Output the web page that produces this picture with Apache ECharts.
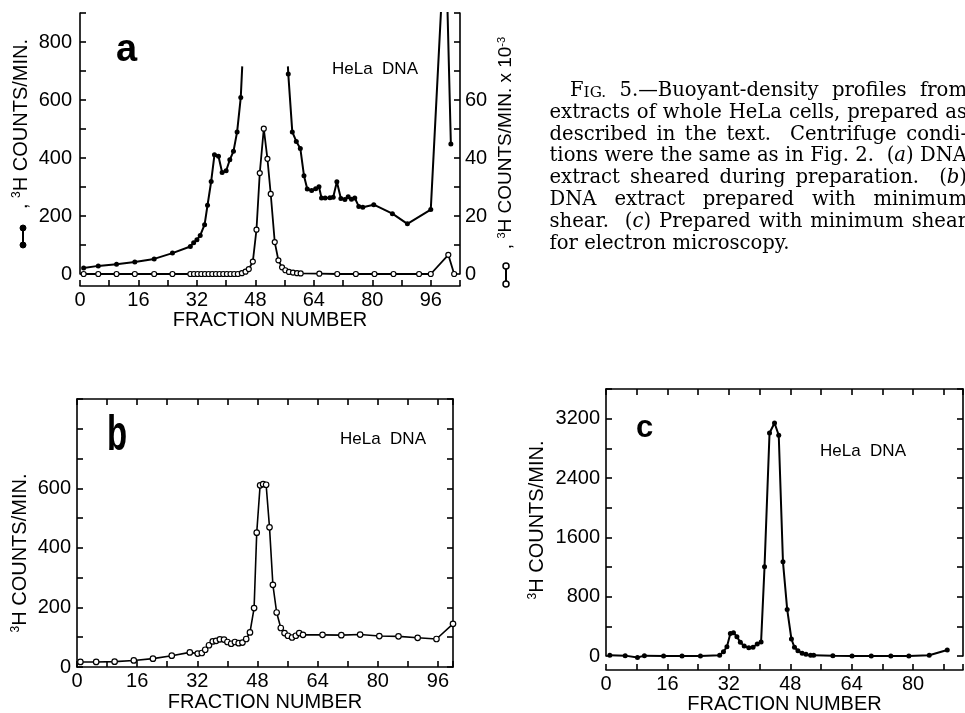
<!DOCTYPE html>
<html>
<head>
<meta charset="utf-8">
<script src="https://cdn.jsdelivr.net/npm/echarts@6/dist/echarts.min.js"></script>
<style>
html,body{margin:0;padding:0;background:#fff;}
#chart{width:965px;height:713px;}
</style>
</head>
<body>
<div id="chart"></div>
<script>
// ---------------- DATA ----------------
// Panel a: filled dots, left axis (3H counts/min)
const aSolidX = [1, 5, 10, 15, 20.3, 25.3, 30.2, 31.1, 32, 32.9, 34.1, 34.9, 35.9, 36.8, 37.9, 38.9, 40, 41, 42, 43, 44, 44.4, 50, 56.9, 57, 58.1, 59.2, 60.3, 61.3, 62.2, 63.4, 64.5, 65.4, 66.1, 67.1, 68.4, 69.3, 70.3, 71.4, 72.5, 73.4, 74.3, 75.2, 76.3, 77.4, 80.4, 85.5, 89.6, 96, 100, 101.5];
const aSolidY = [21, 28, 34, 41, 52, 72, 95, 108, 118, 133, 170, 237, 319, 411, 406, 350, 356, 394, 423, 490, 609, 716, null, 716, 690, 490, 457, 433, 339, 293, 288, 294, 301, 262, 262, 263, 265, 318, 260, 257, 266, 258, 262, 233, 230, 239, 208, 173, 222, 1200, 448];
// fractions where the drawn line runs off scale / stops (no dot drawn)
const aSolidCutX = [44.4, 56.9, 100];
// Panel a: open circles, right axis (3H counts/min x 10^-3)
const aOpenX = [1, 5, 10, 15, 20.3, 25.3, 30.2, 31.2, 32.2, 33.2, 34.2, 35.2, 36.2, 37.2, 38.2, 39.2, 40.2, 41.2, 42.2, 43.2, 44.3, 45.3, 46.2, 47.3, 48.3, 49.2, 50.3, 51.3, 52.2, 53.3, 54.3, 55.3, 56.2, 57.2, 58.3, 59.4, 60.4, 65.5, 70.4, 75.5, 80.6, 85.8, 92.8, 96, 100.8, 102.4];
const aOpenY = [0, 0, 0, 0, 0, 0, 0, 0, 0, 0, 0, 0, 0, 0, 0, 0, 0, 0, 0, 0, 0.3, 0.8, 1.7, 4.3, 15.3, 34.8, 50.1, 39.7, 27.6, 11, 4.7, 2.3, 1.3, 0.7, 0.5, 0.3, 0.2, 0.1, 0, 0, 0, 0, 0, 0, 6.6, 0];
// Panel b: open circles
const bX = [0.9, 5.1, 10, 15.1, 20.2, 25.2, 30, 32.1, 33.2, 34.1, 35.1, 36.1, 37, 38, 39.1, 40, 41, 42, 43, 44, 45, 46, 47.1, 47.8, 48.7, 49.5, 50.3, 51.2, 52.1, 53.1, 54.2, 55.2, 56.1, 57.2, 58.2, 59.1, 60.1, 65.3, 70.3, 75.3, 80.4, 85.5, 90.6, 95.6, 100];
const bY = [17, 17, 18, 22, 28, 38, 49, 45, 47, 58, 73, 86, 88, 93, 92, 84, 78, 84, 80, 82, 94, 116, 198, 451, 610, 614, 612, 469, 276, 183, 131, 114, 105, 99, 105, 114, 108, 108, 107, 109, 104, 103, 98, 94, 145];
// Panel c: filled dots
const cX = [1, 5, 8.2, 10, 15, 19.8, 24.6, 29.6, 30.6, 31.5, 32.4, 33.2, 34.1, 35, 36, 37.2, 38.3, 39.4, 40.4, 41.3, 42.6, 43.9, 45, 46.1, 47.2, 48.3, 49.1, 50, 51.1, 52.1, 53.3, 54.1, 59.1, 64.1, 69.1, 74.2, 78.9, 84.2, 88.9];
const cY = [10, 5, -20, 5, 0, 0, 0, 10, 58, 125, 305, 314, 260, 184, 135, 112, 117, 162, 188, 1203, 3007, 3142, 2976, 1270, 628, 229, 117, 72, 36, 22, 9, 9, 4, 0, 0, 0, 0, 9, 81];

// Tick labels
const fractionLabelsAB = [0, 16, 32, 48, 64, 80, 96];
const fractionLabelsC = [0, 16, 32, 48, 64, 80];
const aLeftLabels = [0, 200, 400, 600, 800];
const aRightLabels = [0, 20, 40, 60];
const bLeftLabels = [0, 200, 400, 600];
const cLeftLabels = [0, 800, 1600, 2400, 3200];

// Texts
const xTitle = 'FRACTION NUMBER';
const sampleLabel = 'HeLa  DNA';
const captionLines = [
  'Fig. 5.\u2014Buoyant-density profiles from',
  'extracts of whole HeLa cells, prepared as',
  'described in the text.  Centrifuge condi-',
  'tions were the same as in Fig. 2.  (_a_) DNA',
  'extract sheared during preparation.  (_b_)',
  'DNA extract prepared with minimum',
  'shear.  (_c_) Prepared with minimum shear',
  'for electron microscopy.'
];

// ---------------- CHART ----------------
const FONT = 'Liberation Sans';
const BLACK = '#000';
const axisLineStyle = {color: BLACK, width: 1.6};

function fmt(list) { return v => (list.indexOf(v) >= 0 ? String(v) : ''); }

function xAx(gi, max, labels, offset, pos, nameGap) {
  return {
    type: 'value', gridIndex: gi, min: 0, max: max, interval: 8,
    position: pos || 'bottom', offset: offset || 0,
    axisLine: {show: true, onZero: false, lineStyle: axisLineStyle},
    axisTick: {show: true, inside: true, length: 6, lineStyle: axisLineStyle},
    axisLabel: {show: !!labels, formatter: labels ? fmt(labels) : '', color: BLACK,
      fontFamily: FONT, fontSize: 20, margin: 4},
    splitLine: {show: false},
    name: labels ? xTitle : '', nameLocation: 'middle', nameGap: nameGap || 24,
    nameTextStyle: {color: BLACK, fontFamily: FONT, fontSize: 20}
  };
}
function yAx(gi, max, interval, labels, pos, margin) {
  return {
    type: 'value', gridIndex: gi, min: 0, max: max, interval: interval,
    position: pos || 'left',
    axisLine: {show: true, onZero: false, lineStyle: axisLineStyle},
    axisTick: {show: true, inside: true, length: 6, lineStyle: axisLineStyle},
    axisLabel: {show: !!labels, formatter: labels ? fmt(labels) : '', color: BLACK,
      fontFamily: FONT, fontSize: 20, margin: margin || 6},
    splitLine: {show: false}
  };
}

function pairs(xs, ys, cut) {
  return xs.map((x, i) => {
    const y = ys[i];
    if (y === null || y === undefined) return [x, '-'];
    if (cut && cut.indexOf(x) >= 0) return {value: [x, y], symbol: 'none'};
    return [x, y];
  });
}

const solidStyle = {color: BLACK};
const openStyle = {color: '#fff', borderColor: BLACK, borderWidth: 1.2};

// ---------- graphic texts ----------
const graphics = [];
// panel letters
graphics.push({type: 'text', x: 116, y: 51, style: {text: 'a', fontFamily: FONT, fontWeight: 'bold', fontSize: 38, fill: BLACK, align: 'left', verticalAlign: 'middle'}});
graphics.push({type: 'text', x: 107, y: 436, scaleX: 0.66, style: {text: 'b', fontFamily: FONT, fontWeight: 'bold', fontSize: 50, fill: BLACK, align: 'left', verticalAlign: 'middle'}});
graphics.push({type: 'text', x: 636, y: 428, style: {text: 'c', fontFamily: FONT, fontWeight: 'bold', fontSize: 31, fill: BLACK, align: 'left', verticalAlign: 'middle'}});
// sample labels
[[375, 69], [383, 439], [863, 451]].forEach(p => graphics.push({type: 'text', x: p[0], y: p[1],
  style: {text: sampleLabel, fontFamily: FONT, fontSize: 17, fill: BLACK, align: 'center', verticalAlign: 'middle'}}));

// rotated axis titles
function vTitle(x, y, text, size) {
  return {type: 'text', x: x, y: y, rotation: Math.PI / 2,
    style: {text: text, fill: BLACK, align: 'center', verticalAlign: 'middle',
      rich: {n: {fontFamily: FONT, fontSize: size}, sup: {fontFamily: FONT, fontSize: Math.round(size * 0.6), verticalAlign: 'top'}}}};
}
graphics.push(vTitle(21, 124, '{n|, }{sup|3}{n|H COUNTS/MIN.}', 20));
graphics.push(vTitle(506, 143, '{n|, }{sup|3}{n|H COUNTS/MIN. x 10}{sup|-3}', 19));
graphics.push(vTitle(20, 553, '{sup|3}{n|H COUNTS/MIN.}', 20));
graphics.push(vTitle(537, 520, '{sup|3}{n|H COUNTS/MIN.}', 20));

// key symbols (dumbbells) for panel a
function dumbbell(x, y1, y2, filled) {
  const cs = filled ? {fill: BLACK, stroke: BLACK, lineWidth: 1} : {fill: '#fff', stroke: BLACK, lineWidth: 1.5};
  return [
    {type: 'line', shape: {x1: x, y1: y1, x2: x, y2: y2}, style: {stroke: BLACK, lineWidth: 2}},
    {type: 'circle', shape: {cx: x, cy: y1, r: 3}, style: cs},
    {type: 'circle', shape: {cx: x, cy: y2, r: 3}, style: cs}
  ];
}
dumbbell(23, 228, 245, true).forEach(g => graphics.push(g));
dumbbell(506, 266, 284, false).forEach(g => graphics.push(g));

// caption (justified serif text)
const CAP_SIZE = 19.6;
const CAP_FAMILY = 'DejaVu Serif';
const CAP_SC = CAP_SIZE * 0.78;
const mctx = document.createElement('canvas').getContext('2d');
function segFont(s) {
  if (s === 'i') return 'italic ' + CAP_SIZE + 'px "' + CAP_FAMILY + '"';
  if (s === 'sc') return CAP_SC + 'px "' + CAP_FAMILY + '"';
  return CAP_SIZE + 'px "' + CAP_FAMILY + '"';
}
function measure(segs) {
  return segs.reduce((w, sg) => { mctx.font = segFont(sg.s); return w + mctx.measureText(sg.t).width; }, 0);
}
function parseWord(w, li, wi) {
  if (li === 0 && wi === 0) return [{t: 'F', s: 'n'}, {t: 'IG.', s: 'sc'}];
  return w.split('_').map((p, k) => ({t: p, s: k % 2 ? 'i' : 'n'})).filter(p => p.t.length);
}
const capRich = {
  n: {fontFamily: CAP_FAMILY, fontSize: CAP_SIZE},
  i: {fontFamily: CAP_FAMILY, fontSize: CAP_SIZE, fontStyle: 'italic'},
  sc: {fontFamily: CAP_FAMILY, fontSize: CAP_SC, verticalAlign: 'bottom'}
};
mctx.font = segFont('n');
const spaceW = mctx.measureText(' ').width;
captionLines.forEach((line, li) => {
  const toks = line.split(/( +)/);
  const words = [], weights = [];
  toks.forEach((t, k) => { if (k % 2 === 0) words.push(t); else weights.push(t.length); });
  const segsList = words.map((w, wi) => parseWord(w, li, wi));
  const widths = segsList.map(measure);
  const x0 = li === 0 ? 570 : 549.5;
  const right = 967;
  const total = widths.reduce((a, b) => a + b, 0);
  const wsum = weights.reduce((a, b) => a + b, 0);
  const last = li === captionLines.length - 1;
  const unit = last ? spaceW : Math.max(2, (right - x0 - total) / wsum);
  let x = x0;
  const y = 91 + li * 21.8;
  segsList.forEach((segs, wi) => {
    graphics.push({type: 'text', x: x, y: y,
      style: {text: segs.map(sg => '{' + sg.s + '|' + sg.t + '}').join(''), fill: BLACK,
        align: 'left', verticalAlign: 'middle', rich: capRich}});
    x += widths[wi] + (wi < weights.length ? weights[wi] * unit : 0);
  });
});

const option = {
  animation: false,
  backgroundColor: '#fff',
  textStyle: {fontFamily: FONT, color: BLACK},
  grid: [
    {left: 80, top: 13, width: 380, height: 261, containLabel: false, outerBoundsMode: 'none'},
    {left: 77, top: 399, width: 376, height: 268, containLabel: false, outerBoundsMode: 'none'},
    {left: 606, top: 389, width: 357, height: 267, containLabel: false, outerBoundsMode: 'none'}
  ],
  xAxis: [
    xAx(0, 104, fractionLabelsAB, 12, 'bottom', 24),
    xAx(1, 100, fractionLabelsAB, 0, 'bottom', 25),
    xAx(1, 100, null, 0, 'top'),
    xAx(2, 93, fractionLabelsC, 14, 'bottom', 22),
    xAx(2, 93, null, 0, 'top')
  ],
  yAxis: [
    yAx(0, 900, 100, aLeftLabels, 'left', 8),
    yAx(0, 90, 10, aRightLabels, 'right', 5),
    yAx(1, 900, 100, bLeftLabels, 'left', 6),
    yAx(1, 900, 100, null, 'right'),
    yAx(2, 3600, 400, cLeftLabels, 'left', 6),
    yAx(2, 3600, 400, null, 'right')
  ],
  series: [
    {type: 'line', xAxisIndex: 0, yAxisIndex: 0, data: pairs(aSolidX, aSolidY, aSolidCutX),
      symbol: 'circle', symbolSize: 5, itemStyle: solidStyle, lineStyle: {color: BLACK, width: 2}, clip: true, z: 3},
    {type: 'line', xAxisIndex: 0, yAxisIndex: 1, data: pairs(aOpenX, aOpenY),
      symbol: 'circle', symbolSize: 5, itemStyle: openStyle, lineStyle: {color: BLACK, width: 1.8}, clip: false, z: 4},
    {type: 'line', xAxisIndex: 1, yAxisIndex: 2, data: pairs(bX, bY),
      symbol: 'circle', symbolSize: 5.5, itemStyle: openStyle, lineStyle: {color: BLACK, width: 1.6}, clip: false},
    {type: 'line', xAxisIndex: 3, yAxisIndex: 4, data: pairs(cX, cY),
      symbol: 'circle', symbolSize: 5, itemStyle: solidStyle, lineStyle: {color: BLACK, width: 2}, clip: false}
  ],
  graphic: {elements: graphics}
};

const chart = echarts.init(document.getElementById('chart'), null, {renderer: 'canvas'});
chart.setOption(option);
</script>
</body>
</html>
